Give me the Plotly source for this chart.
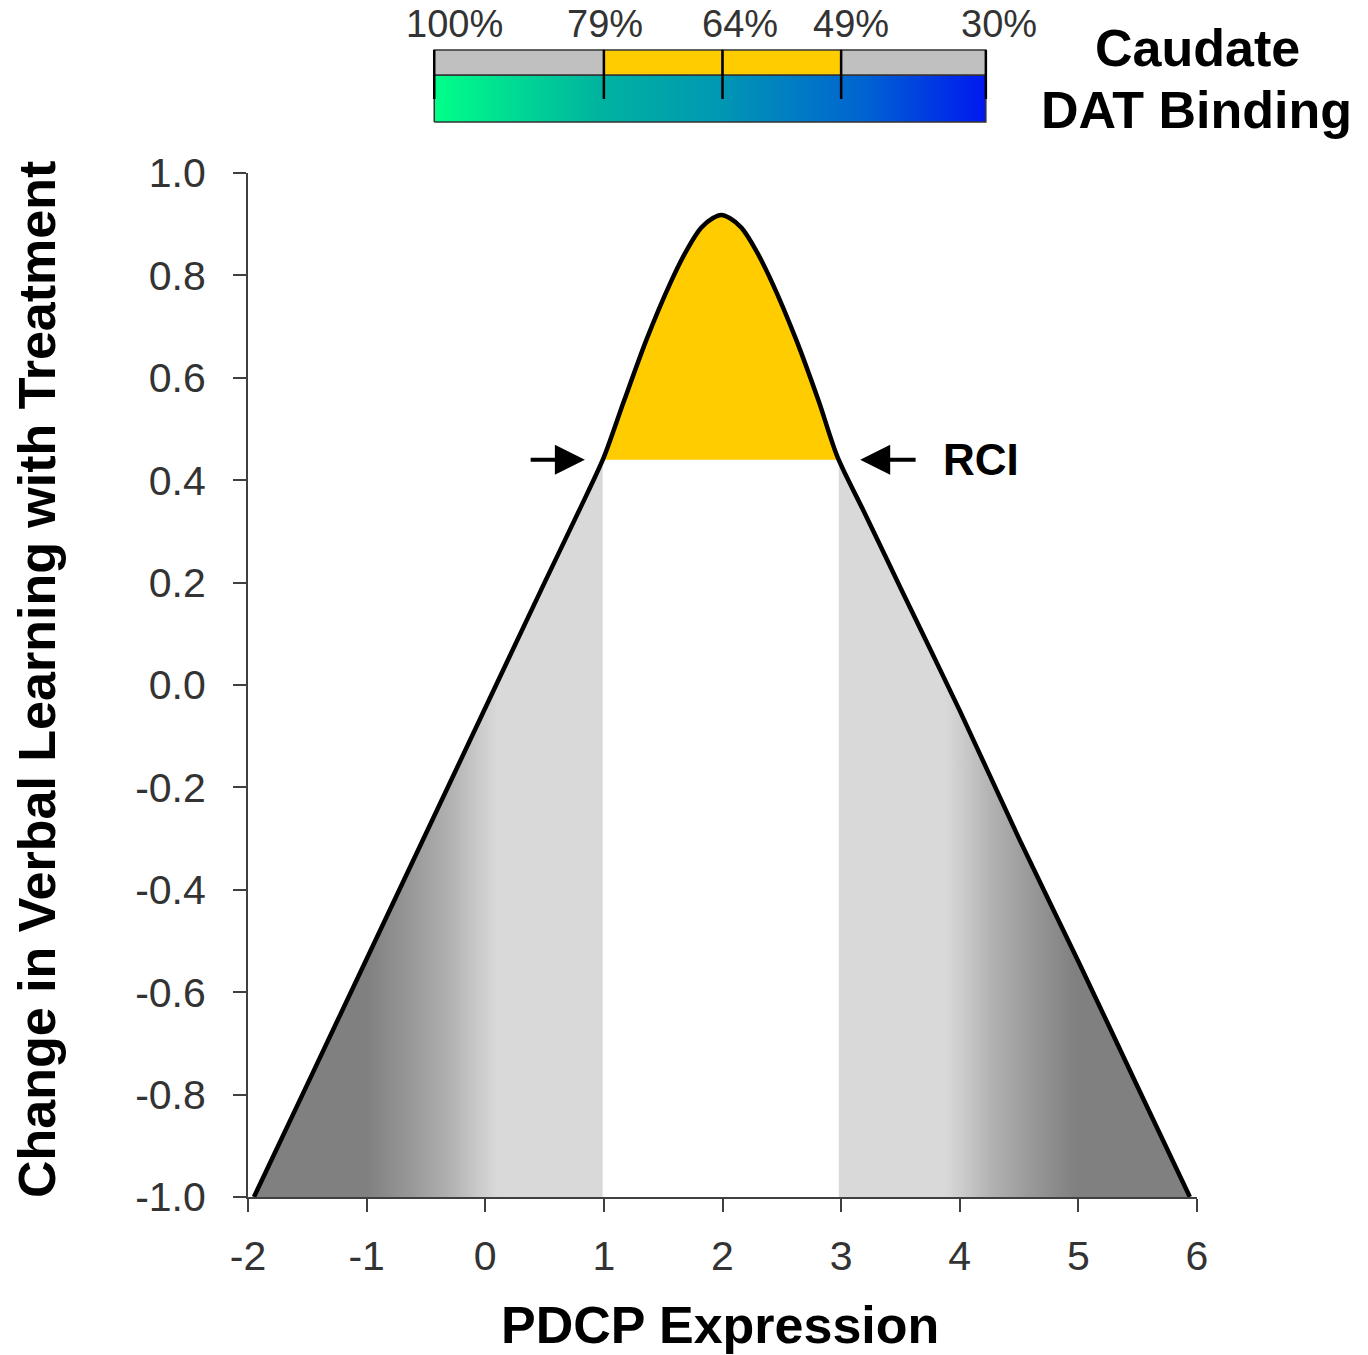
import numpy as np
import plotly.graph_objects as go

# ---------------- data ----------------
pdcp = [-1.95, -1.50, -1.00, -0.50, 0.00, 0.50, 0.80, 1.00, 1.17, 1.36, 1.56, 1.70,
        1.82, 1.92, 1.99, 2.06, 2.16, 2.28, 2.42, 2.62, 2.81, 2.97, 3.20, 3.50, 4.00,
        4.50, 5.00, 5.50, 5.94]
learning = [-1.00, -0.78, -0.535, -0.29, -0.045, 0.20, 0.345, 0.445, 0.555, 0.675, 0.785, 0.85,
            0.893, 0.912, 0.918, 0.912, 0.893, 0.85, 0.785, 0.675, 0.555, 0.445, 0.335, 0.19,
            -0.05, -0.30, -0.54, -0.785, -1.00]
rci = 0.44

dat_labels = ["100%", "79%", "64%", "49%", "30%"]
dat_pdcp = [-0.43, 1.0, 2.0, 3.0, 4.22]
dat_label_shift = [20, 1, 17, 10, 13]

x_ticks = [-2, -1, 0, 1, 2, 3, 4, 5, 6]
x_ticktext = ["-2", "-1", "0", "1", "2", "3", "4", "5", "6"]
y_ticks = [-1.0, -0.8, -0.6, -0.4, -0.2, 0.0, 0.2, 0.4, 0.6, 0.8, 1.0]
y_ticktext = ["-1.0", "-0.8", "-0.6", "-0.4", "-0.2", "0.0", "0.2", "0.4", "0.6", "0.8", "1.0"]

# ---------------- derived geometry ----------------
px = np.array(pdcp)
ly = np.array(learning)
ipk = int(np.argmax(ly))
xl = float(np.interp(rci, ly[:ipk + 1], px[:ipk + 1]))
xr = float(np.interp(rci, ly[ipk:][::-1], px[ipk:][::-1]))
ymin = -1.0
SMOOTH = 0.8

fig = go.Figure()

# left gray region
ml = px < xl
fig.add_trace(go.Scatter(
    x=list(px[ml]) + [xl, xl, px[0]],
    y=list(ly[ml]) + [rci, ymin, ymin],
    fill="toself", mode="lines", line=dict(width=0),
    fillgradient=dict(type="horizontal", start=-1.0, stop=0.1,
                      colorscale=[[0, "#808080"], [0.35, "#999999"], [0.65, "#b2b2b2"],
                                  [0.85, "#c9c9c9"], [1, "#d9d9d9"]]),
    hoverinfo="skip", showlegend=False))

# right gray region
mr = px > xr
fig.add_trace(go.Scatter(
    x=[xr, xr] + list(px[mr]) + [xr],
    y=[ymin, rci] + list(ly[mr]) + [ymin],
    fill="toself", mode="lines", line=dict(width=0),
    fillgradient=dict(type="horizontal", start=3.88, stop=4.98,
                      colorscale=[[0, "#d9d9d9"], [0.15, "#c9c9c9"], [0.35, "#b2b2b2"],
                                  [0.65, "#999999"], [1, "#808080"]]),
    hoverinfo="skip", showlegend=False))

# yellow region above RCI: straight base line, then spline top filled to it
mm = (px > xl) & (px < xr)
fig.add_trace(go.Scatter(
    x=[xl, xr], y=[rci, rci], mode="lines", line=dict(width=0),
    hoverinfo="skip", showlegend=False))
fig.add_trace(go.Scatter(
    x=[xl] + list(px[mm]) + [xr],
    y=[rci] + list(ly[mm]) + [rci],
    fill="tonexty", mode="lines",
    line=dict(width=0, shape="spline", smoothing=SMOOTH),
    fillcolor="#FFCC00", hoverinfo="skip", showlegend=False))

# curve
fig.add_trace(go.Scatter(
    x=pdcp, y=learning, mode="lines",
    line=dict(color="black", width=4.5, shape="spline", smoothing=SMOOTH),
    hoverinfo="skip", showlegend=False))

# ---------------- DAT binding bar (yaxis2) ----------------
gb = 0.653  # boundary between gradient bar and top bar
fig.add_trace(go.Scatter(
    x=[dat_pdcp[0], dat_pdcp[-1], dat_pdcp[-1], dat_pdcp[0], dat_pdcp[0]],
    y=[0, 0, gb, gb, 0], yaxis="y2",
    fill="toself", mode="lines", line=dict(color="#333333", width=1.5),
    fillgradient=dict(type="horizontal", start=dat_pdcp[0], stop=dat_pdcp[-1],
                      colorscale=[[0, "#00FF88"], [0.3, "#00B3A0"], [0.52, "#0097B3"],
                                  [0.78, "#0063D2"], [1, "#0018F0"]]),
    hoverinfo="skip", showlegend=False))

seg_colors = ["#C0C0C0", "#FFCC00", "#FFCC00", "#C0C0C0"]
for i in range(4):
    x0, x1 = dat_pdcp[i], dat_pdcp[i + 1]
    fig.add_trace(go.Scatter(
        x=[x0, x1, x1, x0, x0], y=[gb, gb, 1, 1, gb], yaxis="y2",
        fill="toself", mode="lines", fillcolor=seg_colors[i],
        line=dict(color="#333333", width=1.5),
        hoverinfo="skip", showlegend=False))

tx, ty = [], []
for v in dat_pdcp:
    tx += [v, v, None]
    ty += [1, 0.32, None]
fig.add_trace(go.Scatter(x=tx, y=ty, yaxis="y2", mode="lines",
                         line=dict(color="black", width=2.5),
                         hoverinfo="skip", showlegend=False))

# ---------------- annotations ----------------
# figure: 1368 x 1355, plot area x 248..1197, paper y=1 at pixel 10, y=0 at pixel 1197
H_AREA = 1187.0
def py(pix):
    return (1197.0 - pix) / H_AREA

ann = []
for lab, v, sh in zip(dat_labels, dat_pdcp, dat_label_shift):
    ann.append(dict(x=v, y=py(24), xref="x", yref="paper", text=lab, showarrow=False,
                    xshift=sh, xanchor="center", yanchor="middle",
                    font=dict(family="Liberation Sans, Arial", size=38, color="#333333")))

bold = dict(family="Liberation Sans, Arial", size=52, color="black", weight="bold")
ann.append(dict(x=1.0, y=py(48), xref="paper", yref="paper", text="Caudate", showarrow=False,
                xanchor="center", yanchor="middle", font=bold))
ann.append(dict(x=0.999, y=py(110), xref="paper", yref="paper", text="DAT Binding",
                showarrow=False, xanchor="center", yanchor="middle", font=bold))
ann.append(dict(x=(37 - 248) / 949.0, y=py(680), xref="paper", yref="paper",
                text="Change in Verbal Learning with Treatment", textangle=-90,
                showarrow=False, xanchor="center", yanchor="middle", font=bold))
ann.append(dict(x=0.497, y=py(1325), xref="paper", yref="paper", text="PDCP Expression",
                showarrow=False, xanchor="center", yanchor="middle", font=bold))

# RCI arrows
ann.append(dict(x=xl - 0.15, y=rci, ax=xl - 0.62, ay=rci, xref="x", yref="y",
                axref="x", ayref="y", text="", showarrow=True, arrowhead=2,
                arrowsize=1.5, arrowwidth=4, arrowcolor="black", standoff=0))
ann.append(dict(x=xr + 0.18, y=rci, ax=xr + 0.66, ay=rci, xref="x", yref="y",
                axref="x", ayref="y", text="", showarrow=True, arrowhead=2,
                arrowsize=1.5, arrowwidth=4, arrowcolor="black", standoff=0))
ann.append(dict(x=xr + 0.86, y=rci, xref="x", yref="y", text="RCI", showarrow=False,
                xanchor="left", yanchor="middle",
                font=dict(family="Liberation Sans, Arial", size=44, color="black",
                          weight="bold")))

tickfont = dict(family="Liberation Sans, Arial", size=41, color="#333333")
fig.update_layout(
    width=1368, height=1355,
    margin=dict(l=248, r=171, t=10, b=158, autoexpand=False),
    paper_bgcolor="white", plot_bgcolor="white",
    showlegend=False,
    annotations=ann,
    xaxis=dict(range=[-2, 6], tickvals=x_ticks, ticktext=x_ticktext,
               showline=True, linecolor="#404040", linewidth=2,
               ticks="outside", ticklen=13, tickwidth=2, tickcolor="#404040",
               showgrid=False, zeroline=False, anchor="y", automargin=False,
               tickfont=tickfont, ticklabelstandoff=9),
    yaxis=dict(range=[-1, 1], domain=[0, py(173)], tickvals=y_ticks, ticktext=y_ticktext,
               showline=True, linecolor="#404040", linewidth=2,
               ticks="outside", ticklen=13, tickwidth=2, tickcolor="#404040",
               showgrid=False, zeroline=False, anchor="x", automargin=False,
               tickfont=tickfont, ticklabelstandoff=19),
    yaxis2=dict(range=[-0.1, 1.1], domain=[py(129.2), py(42.8)], visible=False,
                anchor="x", showgrid=False, zeroline=False, automargin=False),
)

fig.write_html("out.html", config={"displayModeBar": False},
               post_script="document.body.style.margin='0';")
